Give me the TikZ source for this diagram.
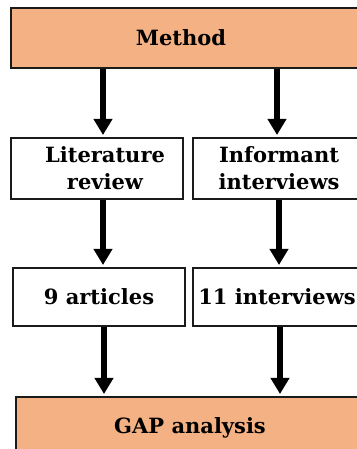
\documentclass[tikz,border=0pt]{standalone}
\usepackage{fontspec}
\setmainfont{DejaVu Serif}
\usepackage{xcolor}
\usepackage{tikz}
\usetikzlibrary{positioning, arrows.meta}
\definecolor{gaporange}{HTML}{F4B183}
\definecolor{gapdark}{HTML}{1A1A1A}

\begin{document}
\begin{tikzpicture}[
  x=1pt, y=1pt,
  stepbox/.style={
    rectangle, draw=gapdark, line width=2pt, fill=white,
    minimum width=172pt, minimum height=61pt, inner sep=0pt,
    font=\bfseries\fontsize{21}{27}\selectfont, align=center
  },
  headbox/.style={stepbox, fill=gaporange},
  arr/.style={-{Triangle[width=18pt, length=16pt]}, line width=5.5pt, color=black, shorten >=2pt},
]
\useasboundingbox (0,0) rectangle (356,449);

% Top: method
\node[headbox, minimum width=358pt, minimum height=60pt] (method) at (190,411) {Method\hspace*{18pt}};

% Two branches
\node[stepbox, below right=68pt and 0pt of method.south west] (litrev) {\hspace*{16pt}Literature\\\hspace*{16pt}review};
\node[stepbox, right=8pt of litrev] (inform) {Informant\\interviews};

% Results
\node[stepbox, minimum height=58pt, below right=67pt and 2pt of litrev.south west] (articles) {9 articles};
\node[stepbox, minimum height=58pt, minimum width=168pt, right=6pt of articles] (intervs) {11 interviews};

% Bottom: analysis
\node[headbox, minimum width=348pt, below right=69pt and 3pt of articles.south west] (gap) {GAP analysis};

% Arrows
\draw[arr] ([xshift=6pt]litrev.north |- method.south) -- ([xshift=6pt]litrev.north);
\draw[arr] ([xshift=-2pt]inform.north |- method.south) -- ([xshift=-2pt]inform.north);
\draw[arr] ([xshift=6pt]litrev.south) -- ([xshift=6pt]litrev.south |- articles.north);
\draw[arr] ([xshift=0pt]inform.south) -- ([xshift=0pt]inform.south |- intervs.north);
\draw[arr] ([xshift=5pt]articles.south) -- ([xshift=5pt]articles.south |- gap.north);
\draw[arr] ([xshift=3pt]intervs.south) -- ([xshift=3pt]intervs.south |- gap.north);
\end{tikzpicture}
\end{document}
